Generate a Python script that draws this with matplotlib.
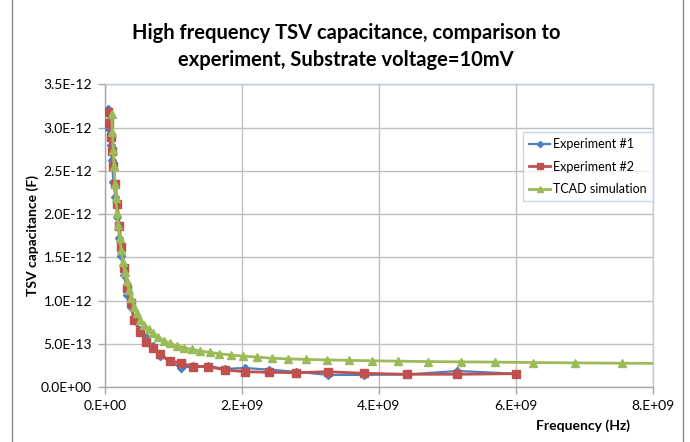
import matplotlib
matplotlib.use("Agg")
import matplotlib.pyplot as plt
from matplotlib.lines import Line2D
from matplotlib.ticker import MultipleLocator, FuncFormatter

plt.rcParams['font.family'] = ['Lato', 'DejaVu Sans']

# ---- data (frequency in Hz, capacitance in F) ----
exp1_f = [0.053e9, 0.067e9, 0.088e9, 0.107e9, 0.126e9, 0.155e9, 0.184e9, 0.213e9,
          0.242e9, 0.282e9, 0.33e9, 0.38e9, 0.43e9, 0.515e9, 0.60e9, 0.70e9, 0.81e9,
          0.95e9, 1.11e9, 1.29e9, 1.51e9, 1.76e9, 2.05e9, 2.40e9, 2.79e9, 3.26e9,
          3.79e9, 4.41e9, 5.15e9, 6.0e9]
exp1_c = [3.21e-12, 2.98e-12, 2.80e-12, 2.62e-12, 2.37e-12, 2.20e-12, 1.97e-12, 1.72e-12,
          1.52e-12, 1.30e-12, 1.06e-12, 0.93e-12, 0.80e-12, 0.66e-12, 0.58e-12, 0.47e-12,
          0.36e-12, 0.30e-12, 0.22e-12, 0.24e-12, 0.24e-12, 0.21e-12, 0.22e-12, 0.20e-12,
          0.177e-12, 0.14e-12, 0.14e-12, 0.145e-12, 0.185e-12, 0.154e-12]

exp2_f = exp1_f
exp2_c = [3.18e-12, 3.05e-12, 2.89e-12, 2.73e-12, 2.56e-12, 2.35e-12, 2.12e-12, 1.86e-12,
          1.62e-12, 1.38e-12, 1.15e-12, 0.97e-12, 0.77e-12, 0.64e-12, 0.52e-12, 0.45e-12,
          0.38e-12, 0.30e-12, 0.28e-12, 0.235e-12, 0.237e-12, 0.197e-12, 0.177e-12, 0.17e-12,
          0.165e-12, 0.177e-12, 0.158e-12, 0.147e-12, 0.147e-12, 0.154e-12]

tcad_f = [0.102e9, 0.112e9, 0.123e9, 0.136e9, 0.149e9, 0.164e9, 0.181e9, 0.199e9,
          0.219e9, 0.241e9, 0.265e9, 0.291e9, 0.321e9, 0.353e9, 0.388e9, 0.427e9,
          0.47e9, 0.52e9, 0.58e9, 0.64e9, 0.71e9, 0.78e9, 0.87e9, 0.95e9, 1.05e9,
          1.16e9, 1.27e9, 1.39e9, 1.53e9, 1.67e9, 1.84e9, 2.02e9, 2.23e9, 2.44e9,
          2.68e9, 2.94e9, 3.24e9, 3.56e9, 3.90e9, 4.28e9, 4.72e9, 5.20e9, 5.70e9,
          6.25e9, 6.87e9, 7.55e9, 8.30e9]
tcad_c = [3.16e-12, 2.95e-12, 2.74e-12, 2.55e-12, 2.35e-12, 2.18e-12, 2.01e-12, 1.87e-12,
          1.72e-12, 1.58e-12, 1.45e-12, 1.33e-12, 1.22e-12, 1.12e-12, 1.03e-12, 0.93e-12,
          0.85e-12, 0.78e-12, 0.72e-12, 0.665e-12, 0.62e-12, 0.575e-12, 0.535e-12, 0.505e-12,
          0.478e-12, 0.454e-12, 0.435e-12, 0.416e-12, 0.401e-12, 0.385e-12, 0.37e-12,
          0.358e-12, 0.345e-12, 0.333e-12, 0.325e-12, 0.319e-12, 0.313e-12, 0.308e-12,
          0.303e-12, 0.299e-12, 0.294e-12, 0.291e-12, 0.288e-12, 0.283e-12, 0.279e-12,
          0.275e-12, 0.272e-12]

series_names = ["Experiment #1", "Experiment #2", "TCAD simulation"]
title_text = "High frequency TSV capacitance, comparison to\nexperiment, Substrate voltage=10mV"
x_label = "Frequency (Hz)"
y_label = "TSV capacitance (F)"

# ---- figure ----
fig = plt.figure(figsize=(6.9, 4.42), dpi=100)
W, H = 690, 442
ax = fig.add_axes([104.7 / W, (H - 387) / H, (652.7 - 104.7) / W, (387 - 84.3) / H])

blue, red, green = "#4F81BD", "#C0504D", "#9BBB59"
ax.plot(exp1_f, exp1_c, color=blue, lw=1.6, marker="D", ms=4, mec=blue, mfc=blue,
        label=series_names[0], zorder=3)
ax.plot(exp2_f, exp2_c, color=red, lw=2.0, marker="s", ms=6, mec=red, mfc=red,
        label=series_names[1], zorder=4)
ax.plot(tcad_f, tcad_c, color=green, lw=2.0, marker="^", ms=6, mec=green, mfc=green,
        label=series_names[2], zorder=5)

ax.set_xlim(0, 8e9)
ax.set_ylim(0, 3.5e-12)
ax.xaxis.set_major_locator(MultipleLocator(2e9))
ax.yaxis.set_major_locator(MultipleLocator(0.5e-12))


def xfmt(v, pos):
    m = v / 1e9
    return "0.E+00" if abs(m) < 1e-9 else "%d.E+09" % round(m)


def yfmt(v, pos):
    if abs(v) < 1e-20:
        return "0.0E+00"
    if v < 0.99e-12:
        return "%.1fE-13" % (v / 1e-13)
    return "%.1fE-12" % (v / 1e-12)


ax.xaxis.set_major_formatter(FuncFormatter(xfmt))
ax.yaxis.set_major_formatter(FuncFormatter(yfmt))

ax.grid(True, color="#BFBFBF", lw=1.0)
ax.set_axisbelow(True)
for side in ["top", "right"]:
    ax.spines[side].set_color("#B9CDE5")
    ax.spines[side].set_linewidth(1.0)
for side in ["left", "bottom"]:
    ax.spines[side].set_color("#A6A6A6")
    ax.spines[side].set_linewidth(1.0)
ax.tick_params(axis="both", direction="out", length=5, width=1, color="#A6A6A6",
               labelsize=10, labelcolor="#000000", pad=4)

fig.text(0.5015, 0.895, title_text, ha="center", va="center", fontsize=14.5,
         fontweight="bold", linespacing=1.45)
fig.text(33 / W, (H - 236) / H, y_label, rotation=90, ha="center", va="center",
         fontsize=10, fontweight="bold")
fig.text(583 / W, (H - 426) / H, x_label, ha="center", va="center",
         fontsize=10, fontweight="bold")

leg = ax.legend(loc="upper left", bbox_to_anchor=((522.7 - 104.7) / 548.0, (387 - 131.7) / 302.7),
                fontsize=9, frameon=True, fancybox=False, handlelength=1.7,
                handletextpad=0.2, borderpad=0.5, labelspacing=0.85, borderaxespad=0,
                markerscale=0.8)
leg.get_frame().set_edgecolor("#B9CDE5")
leg.get_frame().set_linewidth(1.0)

# chart-area border (left and right edges visible)
fig.add_artist(Line2D([11.5 / W, 11.5 / W], [0, 1], color="#8C8C8C", lw=1.0))
fig.add_artist(Line2D([683.3 / W, 683.3 / W], [0, 1], color="#8C8C8C", lw=1.0))

fig.savefig("out.png", dpi=100)
